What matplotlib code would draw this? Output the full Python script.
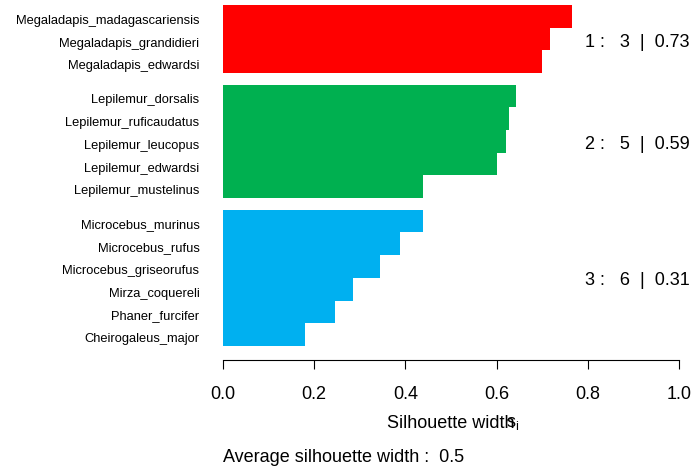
import matplotlib
matplotlib.use("Agg")
import matplotlib.pyplot as plt
import matplotlib.transforms as mtransforms

plt.rcParams['font.family'] = ['Liberation Sans', 'DejaVu Sans']

# clusters, top to bottom as drawn
cluster_ids = [1, 2, 3]
cluster_colors = ['#FF0000', '#00B050', '#00B0F0']
names1 = ['Megaladapis_madagascariensis', 'Megaladapis_grandidieri', 'Megaladapis_edwardsi']
widths1 = [0.765, 0.718, 0.700]
names2 = ['Lepilemur_dorsalis', 'Lepilemur_ruficaudatus', 'Lepilemur_leucopus',
          'Lepilemur_edwardsi', 'Lepilemur_mustelinus']
widths2 = [0.643, 0.627, 0.620, 0.601, 0.439]
names3 = ['Microcebus_murinus', 'Microcebus_rufus', 'Microcebus_griseorufus',
          'Mirza_coquereli', 'Phaner_furcifer', 'Cheirogaleus_major']
widths3 = [0.439, 0.388, 0.344, 0.285, 0.246, 0.179]
avg_widths = [0.73, 0.59, 0.31]
overall_avg = 0.5

all_names = [names1, names2, names3]
all_widths = [widths1, widths2, widths3]

W, H = 694, 470
fig = plt.figure(figsize=(W / 100, H / 100), dpi=100)
ax = fig.add_axes([223 / W, 1 - 360 / H, 456 / W, 355 / H])

# small downward nudge for the text next to the bars (3 px)
down = mtransforms.ScaledTranslation(0, -3 / 100, fig.dpi_scale_trans)

gap = 0.5
total = sum(len(n) for n in all_names) + gap * (len(all_names) - 1)
top = total
yticks, ylabels = [], []
for cid, col, names, wid, avg in zip(cluster_ids, cluster_colors, all_names, all_widths, avg_widths):
    ys = [top - i - 0.5 for i in range(len(names))]
    ax.barh(ys, wid, height=1.0, color=col, linewidth=0)
    yticks += ys
    ylabels += names
    ax.text(0.794, (ys[0] + ys[-1]) / 2, f"{cid} :   {len(names)}  |  {avg:.2f}",
            fontsize=13, va='center', ha='left', clip_on=False,
            transform=ax.transData + down)
    top -= len(names) + gap

ax.set_xlim(0, 1)
ax.set_ylim(-14 / 22.73, total)
ax.set_yticks(yticks)
ax.set_yticklabels(ylabels, fontsize=9.3)
ax.tick_params(axis='y', length=0, pad=17)
for lab in ax.get_yticklabels():
    lab.set_transform(lab.get_transform() + down)
ax.set_xticks([0, 0.2, 0.4, 0.6, 0.8, 1.0])
ax.set_xticklabels(['0.0', '0.2', '0.4', '0.6', '0.8', '1.0'], fontsize=13)
ax.tick_params(axis='x', length=6.5, width=0.8, pad=12, direction='out')
for s in ['top', 'right', 'left']:
    ax.spines[s].set_visible(False)
ax.spines['bottom'].set_linewidth(0.8)

fig.text(451 / W, 1 - 423 / H, 'Silhouette width', fontsize=13, ha='center', va='center')
fig.text(506 / W, 1 - 423 / H, r'$\mathregular{s_i}$', fontsize=13, ha='left', va='center')
fig.text(223 / W, 1 - 457 / H, f'Average silhouette width :  {overall_avg}', fontsize=13,
         ha='left', va='center')

fig.savefig('out.png', dpi=100)
